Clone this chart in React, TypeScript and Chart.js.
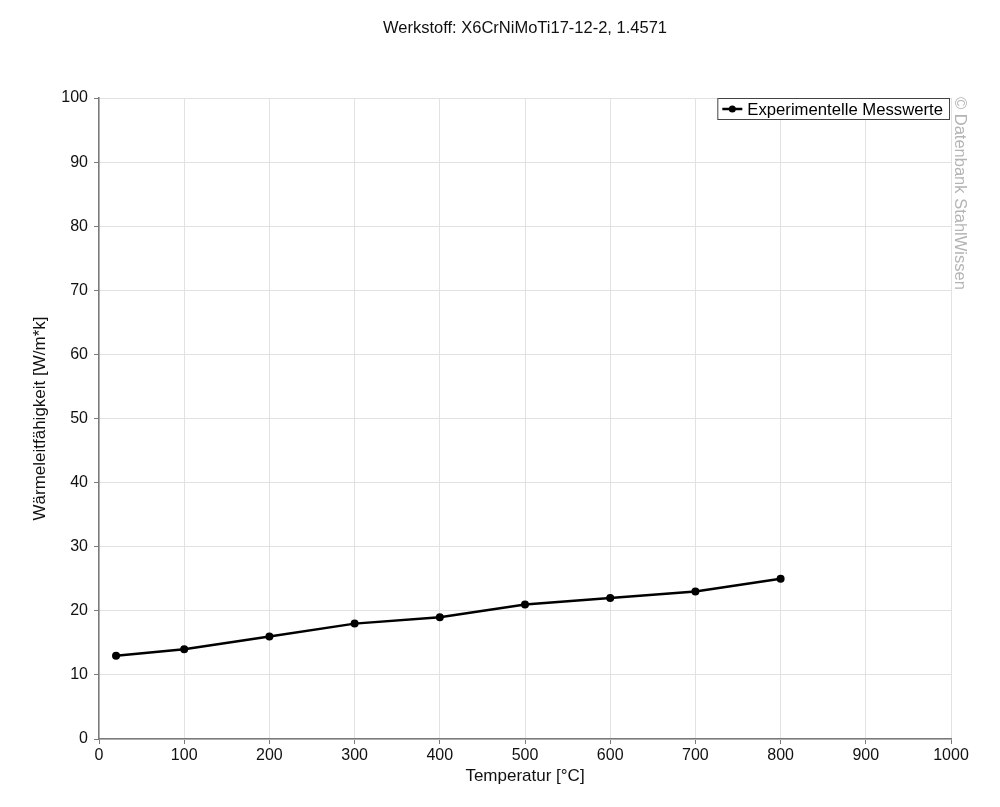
import { useEffect, useRef } from 'react';
import { Chart, registerables, Plugin } from 'chart.js';

Chart.register(...registerables);

const temperatures = [20, 100, 200, 300, 400, 500, 600, 700, 800];
const conductivity = [13, 14, 16, 18, 19, 21, 22, 23, 25];
const seriesLabel = 'Experimentelle Messwerte';
const chartTitle = 'Werkstoff: X6CrNiMoTi17-12-2, 1.4571';
const watermark = '© Datenbank StahlWissen';

const FONT = "'Liberation Sans', Arial, sans-serif";

// legend box in the top right corner of the plot, with a border
const boxedLegend: Plugin<'line'> = {
  id: 'boxedLegend',
  afterDatasetsDraw(chart) {
    const { ctx, chartArea } = chart;
    const label = chart.data.datasets[0].label ?? '';
    ctx.save();
    ctx.font = `16.7px ${FONT}`;
    const w = ctx.measureText(label).width;
    const right = chartArea.right - 1;
    const top = chartArea.top;
    const boxW = w + 37;
    const boxH = 22;
    const left = right - boxW;
    ctx.fillStyle = '#fff';
    ctx.fillRect(left, top, boxW, boxH);
    ctx.strokeStyle = '#444';
    ctx.lineWidth = 1;
    ctx.strokeRect(left + 0.5, top + 0.5, boxW - 1, boxH - 1);
    const cy = top + boxH / 2;
    ctx.strokeStyle = '#000';
    ctx.lineWidth = 2.5;
    ctx.beginPath();
    ctx.moveTo(left + 5, cy);
    ctx.lineTo(left + 25, cy);
    ctx.stroke();
    ctx.fillStyle = '#000';
    ctx.beginPath();
    ctx.arc(left + 15, cy, 3.5, 0, Math.PI * 2);
    ctx.fill();
    ctx.textBaseline = 'middle';
    ctx.textAlign = 'left';
    ctx.fillText(label, left + 30, cy + 1);
    ctx.restore();
  },
};

const watermarkPlugin: Plugin<'line'> = {
  id: 'watermark',
  afterDraw(chart) {
    const { ctx, chartArea } = chart;
    ctx.save();
    ctx.translate(chartArea.right + 9, chartArea.top - 1);
    ctx.rotate(Math.PI / 2);
    ctx.font = `16.5px ${FONT}`;
    ctx.fillStyle = '#b4b4b4';
    ctx.textAlign = 'left';
    ctx.textBaseline = 'middle';
    ctx.fillText(watermark, 0, 0);
    ctx.restore();
  },
};

export default function App() {
  const canvasRef = useRef<HTMLCanvasElement>(null);

  useEffect(() => {
    document.body.style.margin = '0';
    if (!canvasRef.current) return;

    const chart = new Chart(canvasRef.current, {
      type: 'line',
      data: {
        datasets: [
          {
            label: seriesLabel,
            data: temperatures.map((t, i) => ({ x: t, y: conductivity[i] })),
            borderColor: '#000',
            backgroundColor: '#000',
            borderWidth: 2.5,
            pointRadius: 4,
            pointBackgroundColor: '#000',
            pointBorderWidth: 0,
            tension: 0,
          },
        ],
      },
      options: {
        animation: false,
        responsive: false,
        devicePixelRatio: 1,
        layout: { padding: { left: 0, right: 49, top: 0, bottom: 0 } },
        plugins: {
          legend: { display: false },
          tooltip: { enabled: false },
          title: {
            display: true,
            text: chartTitle,
            fullSize: false,
            color: '#111',
            font: { family: FONT, size: 16.5, weight: 'normal' },
            padding: { top: 19, bottom: 59.2 },
          },
        },
        scales: {
          x: {
            type: 'linear',
            min: 0,
            max: 1000,
            ticks: {
              stepSize: 100,
              color: '#111',
              padding: 2,
              font: { family: FONT, size: 16 },
              callback: (v) => String(v),
            },
            grid: { color: '#e2e2e2', tickColor: '#7a7a7a', tickLength: 5 },
            border: { color: '#7a7a7a', width: 1.5 },
            title: {
              display: true,
              text: 'Temperatur [°C]',
              color: '#111',
              font: { family: FONT, size: 17 },
              padding: { top: 0, bottom: 20 },
            },
            afterFit: (scale) => {
              scale.height = 68;
            },
          },
          y: {
            min: 0,
            max: 100,
            ticks: {
              stepSize: 10,
              color: '#111',
              padding: 6,
              font: { family: FONT, size: 16 },
              callback: (v) => String(v),
            },
            grid: { color: '#e2e2e2', tickColor: '#7a7a7a', tickLength: 5 },
            border: { color: '#7a7a7a', width: 1.5 },
            title: {
              display: true,
              text: 'Wärmeleitfähigkeit [W/m*k]',
              color: '#111',
              font: { family: FONT, size: 17 },
              padding: { top: 30, bottom: 0 },
            },
            afterFit: (scale) => {
              scale.width = 99;
            },
          },
        },
      },
      plugins: [boxedLegend, watermarkPlugin],
    });

    return () => {
      chart.destroy();
    };
  }, []);

  return (
    <div style={{ width: 1000, height: 807, background: '#fff' }}>
      <canvas ref={canvasRef} width={1000} height={807} />
    </div>
  );
}
